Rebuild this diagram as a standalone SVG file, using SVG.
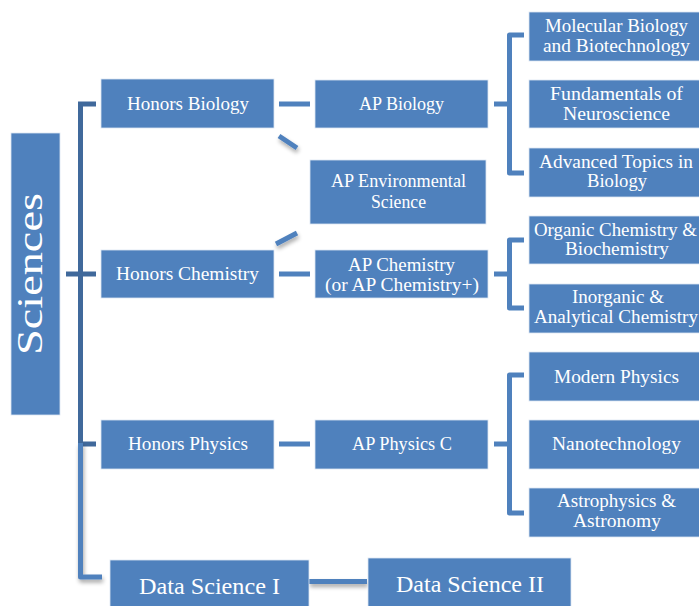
<svg xmlns="http://www.w3.org/2000/svg" width="699" height="606" viewBox="0 0 699 606">
<style>
.box{fill:#4F81BD;stroke:#DCE6F2;stroke-width:0.8}
.t{font-family:"Liberation Serif","DejaVu Serif",serif;font-size:19px;fill:#fff;text-anchor:middle}
.big{font-size:24px}
.c{fill:none;stroke:#4F81BD;stroke-width:5;stroke-linejoin:round}
.trunk{fill:none;stroke:#40699B;stroke-width:5}
</style>
<defs>
<filter id="sh" filterUnits="userSpaceOnUse" x="0" y="0" width="699" height="606">
<feGaussianBlur in="SourceAlpha" stdDeviation="2"/>
<feOffset dx="1" dy="3" result="b"/>
<feComponentTransfer><feFuncA type="linear" slope="0.35"/></feComponentTransfer>
<feMerge><feMergeNode/><feMergeNode in="SourceGraphic"/></feMerge>
</filter>
</defs>
<rect width="699" height="606" fill="#fff"/>
<g id="connectors">
<path class="trunk" d="M96,104 H80.5 V444 H96"/>
<path class="trunk" d="M66,274 H96"/>
<path class="c" d="M80.5,443 V577 H102" filter="url(#sh)"/>
<path class="c" d="M309,581.5 H367" filter="url(#sh)"/>
<path class="c" d="M279,104 H310"/>
<path class="c" d="M279,274 H310"/>
<path class="c" d="M279,444 H310"/>
<path class="c" d="M279,136 L297,148" filter="url(#sh)"/>
<path class="c" d="M276,244 L297,233" filter="url(#sh)"/>
<path class="c" d="M494,104 H509.5"/>
<path class="c" d="M524,35 H509.5 V173 H524"/>
<path class="c" d="M494,274 H509.5"/>
<path class="c" d="M524,240 H509.5 V308 H524"/>
<path class="c" d="M494,444 H509.5"/>
<path class="c" d="M524,375 H509.5 V513 H524"/>
</g>
<g id="sciences">
<rect class="box" x="11" y="133" width="49" height="282"/>
<text class="t" transform="translate(42,274) rotate(-90)" style="font-size:35px" textLength="162" lengthAdjust="spacingAndGlyphs">Sciences</text>
</g>
<g id="honors-biology">
<rect class="box" x="101" y="79" width="173" height="49"/>
<text class="t" x="188" y="110" textLength="122" lengthAdjust="spacingAndGlyphs">Honors Biology</text>
</g>
<g id="honors-chemistry">
<rect class="box" x="101" y="250" width="173" height="48"/>
<text class="t" x="187.5" y="280" textLength="143" lengthAdjust="spacingAndGlyphs">Honors Chemistry</text>
</g>
<g id="honors-physics">
<rect class="box" x="101" y="420" width="173" height="49"/>
<text class="t" x="188" y="450" textLength="120" lengthAdjust="spacingAndGlyphs">Honors Physics</text>
</g>
<g id="ap-biology">
<rect class="box" x="315" y="80" width="173" height="48"/>
<text class="t" x="401.5" y="110" textLength="85" lengthAdjust="spacingAndGlyphs">AP Biology</text>
</g>
<g id="ap-environmental-science">
<rect class="box" x="310" y="160" width="176" height="64"/>
<text class="t" x="398.5" y="187" textLength="135" lengthAdjust="spacingAndGlyphs">AP Environmental</text>
<text class="t" x="398.5" y="208" textLength="55" lengthAdjust="spacingAndGlyphs">Science</text>
</g>
<g id="ap-chemistry">
<rect class="box" x="315" y="250" width="173" height="48"/>
<text class="t" x="401.5" y="271" textLength="107" lengthAdjust="spacingAndGlyphs">AP Chemistry</text>
<text class="t" x="402" y="291" textLength="154" lengthAdjust="spacingAndGlyphs">(or AP Chemistry+)</text>
</g>
<g id="ap-physics-c">
<rect class="box" x="315" y="420" width="173" height="49"/>
<text class="t" x="402" y="450" textLength="100" lengthAdjust="spacingAndGlyphs">AP Physics C</text>
</g>
<g id="molecular-biology">
<rect class="box" x="529" y="12" width="175" height="49"/>
<text class="t" x="616.5" y="32" textLength="143" lengthAdjust="spacingAndGlyphs">Molecular Biology</text>
<text class="t" x="616.5" y="52" textLength="147" lengthAdjust="spacingAndGlyphs">and Biotechnology</text>
</g>
<g id="fundamentals-neuroscience">
<rect class="box" x="529" y="80" width="175" height="48"/>
<text class="t" x="616.5" y="100" textLength="133" lengthAdjust="spacingAndGlyphs">Fundamentals of</text>
<text class="t" x="616.5" y="120" textLength="107" lengthAdjust="spacingAndGlyphs">Neuroscience</text>
</g>
<g id="advanced-topics-biology">
<rect class="box" x="529" y="148" width="175" height="49"/>
<text class="t" x="616" y="168" textLength="154" lengthAdjust="spacingAndGlyphs">Advanced Topics in</text>
<text class="t" x="617" y="187" textLength="60" lengthAdjust="spacingAndGlyphs">Biology</text>
</g>
<g id="organic-chemistry">
<rect class="box" x="529" y="216" width="175" height="48"/>
<text class="t" x="615.5" y="236" textLength="163" lengthAdjust="spacingAndGlyphs">Organic Chemistry &amp;</text>
<text class="t" x="617" y="255" textLength="104" lengthAdjust="spacingAndGlyphs">Biochemistry</text>
</g>
<g id="inorganic-chemistry">
<rect class="box" x="529" y="284" width="175" height="49"/>
<text class="t" x="618" y="303" textLength="92" lengthAdjust="spacingAndGlyphs">Inorganic &amp;</text>
<text class="t" x="616" y="323" textLength="164" lengthAdjust="spacingAndGlyphs">Analytical Chemistry</text>
</g>
<g id="modern-physics">
<rect class="box" x="529" y="352" width="175" height="49"/>
<text class="t" x="616.5" y="383" textLength="125" lengthAdjust="spacingAndGlyphs">Modern Physics</text>
</g>
<g id="nanotechnology">
<rect class="box" x="529" y="420" width="175" height="49"/>
<text class="t" x="616.5" y="450" textLength="129" lengthAdjust="spacingAndGlyphs">Nanotechnology</text>
</g>
<g id="astrophysics">
<rect class="box" x="529" y="488" width="175" height="49"/>
<text class="t" x="616.5" y="507" textLength="119" lengthAdjust="spacingAndGlyphs">Astrophysics &amp;</text>
<text class="t" x="617" y="527" textLength="88" lengthAdjust="spacingAndGlyphs">Astronomy</text>
</g>
<g id="data-science-1">
<rect class="box" x="110" y="560" width="199" height="50"/>
<text class="t big" x="209.5" y="594" textLength="141" lengthAdjust="spacingAndGlyphs">Data Science I</text>
</g>
<g id="data-science-2">
<rect class="box" x="368" y="558" width="203" height="52"/>
<text class="t big" x="470" y="592" textLength="148" lengthAdjust="spacingAndGlyphs">Data Science II</text>
</g>
</svg>
